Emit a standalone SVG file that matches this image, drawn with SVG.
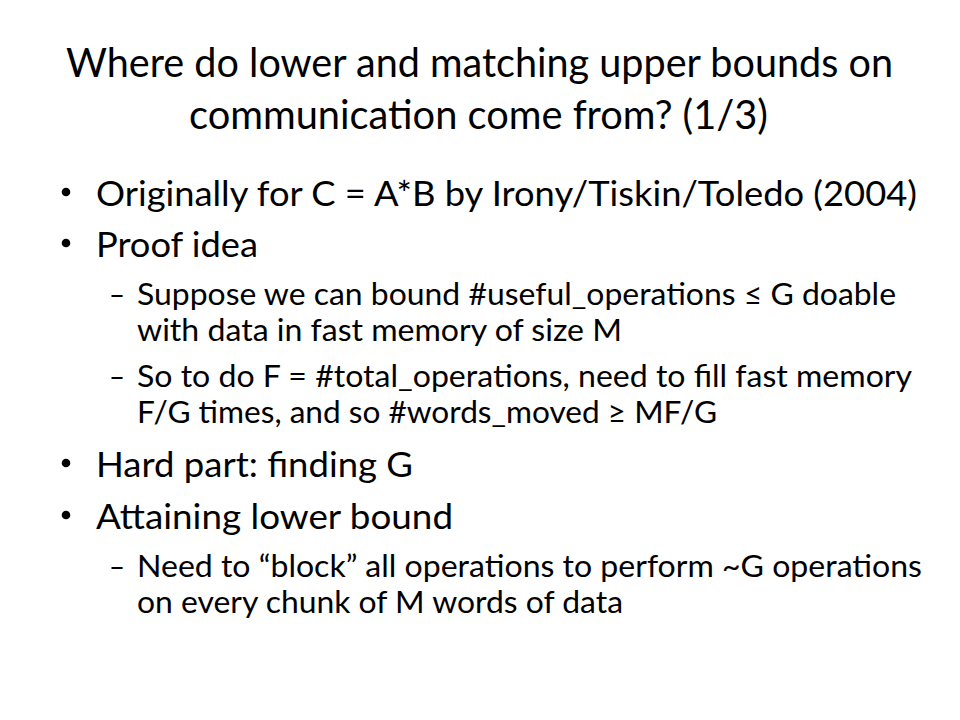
<svg xmlns="http://www.w3.org/2000/svg" width="960" height="720" viewBox="0 0 960 720">
  <style>
    text { font-family: Lato, "Open Sans", "Liberation Sans", sans-serif; fill: #000; }
    .title { font-size: 40px; text-anchor: middle; }
    .l1 { font-size: 34.5px; }
    .l2 { font-size: 30.5px; }
    .dot { fill: #000; }
  </style>
  <rect width="960" height="720" fill="#fff"/>
  <g id="title">
    <text class="title" x="479.5" y="77" textLength="827" lengthAdjust="spacingAndGlyphs">Where do lower and matching upper bounds on</text>
    <text class="title" x="478.5" y="129" textLength="579" lengthAdjust="spacingAndGlyphs">communication come from? (1/3)</text>
  </g>
  <g id="bullet-originally">
    <circle class="dot" cx="66" cy="192" r="4.3"/>
    <text class="l1" x="96" y="206" textLength="821" lengthAdjust="spacingAndGlyphs">Originally for C = A*B by Irony/Tiskin/Toledo (2004)</text>
  </g>
  <g id="bullet-proof">
    <circle class="dot" cx="66" cy="243" r="4.3"/>
    <text class="l1" x="96" y="257" textLength="162" lengthAdjust="spacingAndGlyphs">Proof idea</text>
  </g>
  <g id="sub-suppose">
    <text class="l2" x="109" y="305" textLength="16" lengthAdjust="spacingAndGlyphs">–</text>
    <text class="l2" x="137" y="305" textLength="759" lengthAdjust="spacingAndGlyphs">Suppose we can bound #useful_operations ≤ G doable</text>
    <text class="l2" x="137" y="341" textLength="485" lengthAdjust="spacingAndGlyphs">with data in fast memory of size M</text>
  </g>
  <g id="sub-so">
    <text class="l2" x="109" y="387" textLength="16" lengthAdjust="spacingAndGlyphs">–</text>
    <text class="l2" x="137" y="387" textLength="775" lengthAdjust="spacingAndGlyphs">So to do F = #total_operations, need to fill fast memory</text>
    <text class="l2" x="137" y="423" textLength="580" lengthAdjust="spacingAndGlyphs">F/G times, and so #words_moved ≥ MF/G</text>
  </g>
  <g id="bullet-hard">
    <circle class="dot" cx="66" cy="463" r="4.3"/>
    <text class="l1" x="96" y="477" textLength="317" lengthAdjust="spacingAndGlyphs">Hard part: finding G</text>
  </g>
  <g id="bullet-attaining">
    <circle class="dot" cx="66" cy="515" r="4.3"/>
    <text class="l1" x="96" y="529" textLength="357" lengthAdjust="spacingAndGlyphs">Attaining lower bound</text>
  </g>
  <g id="sub-need">
    <text class="l2" x="109" y="577" textLength="16" lengthAdjust="spacingAndGlyphs">–</text>
    <text class="l2" x="137" y="577" textLength="785" lengthAdjust="spacingAndGlyphs">Need to “block” all operations to perform ~G operations</text>
    <text class="l2" x="137" y="613" textLength="486" lengthAdjust="spacingAndGlyphs">on every chunk of M words of data</text>
  </g>
</svg>
